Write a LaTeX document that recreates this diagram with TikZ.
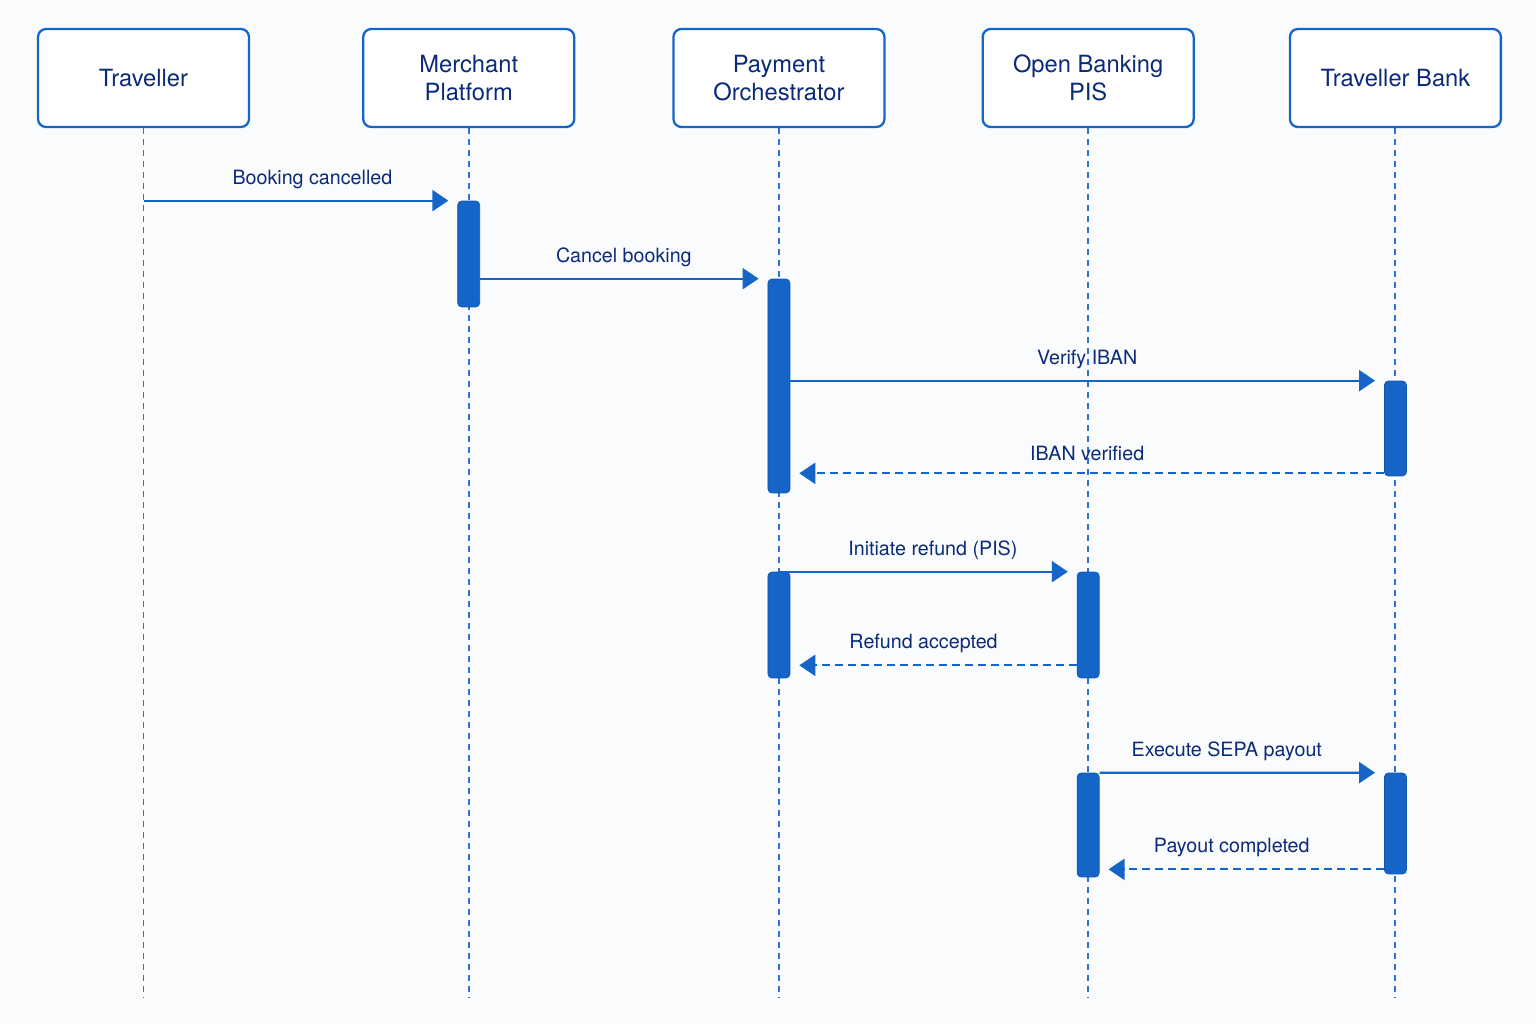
\documentclass[tikz,border=0pt]{standalone}
\usepackage{fontspec}
\setmainfont{TeX Gyre Heros}
\usepackage{tikz}
\usepackage{xcolor}
\usetikzlibrary{arrows.meta, positioning}
\definecolor{seqblue}{HTML}{1565C8}
\definecolor{seqnavy}{HTML}{0B2A78}
\definecolor{seqdash}{HTML}{2F72D6}
\definecolor{seqbg}{HTML}{FAFBFC}
\tikzstyle{actor} = [rectangle, rounded corners=0.16cm, 
minimum width=4.22cm, 
minimum height=1.96cm, 
text centered, align=center, 
draw=seqblue, line width=1.3pt, fill=white, 
text=seqnavy, font=\fontsize{13.5}{16}\selectfont]
\tikzstyle{lifeline} = [draw=seqdash, line width=1.1pt, dash pattern=on 0.12cm off 0.1cm]
\tikzstyle{activation} = [rectangle, rounded corners=0.08cm, 
minimum width=0.44cm, inner sep=0pt, 
fill=seqblue, draw=seqblue!85!black, line width=0.4pt]
\tikzstyle{msg} = [draw=seqblue, line width=1.3pt, -{Triangle[length=0.32cm,width=0.42cm]}, shorten >=0.18cm]
\tikzstyle{reply} = [msg, dash pattern=on 0.16cm off 0.1cm]
\tikzstyle{msglabel} = [above=3pt, text=seqnavy, font=\fontsize{11.2}{13}\selectfont]

\begin{document}
\begin{tikzpicture}[x=0.02cm, y=-0.02cm]
        \fill[seqbg] (0,0) rectangle (1536,1024);
        \useasboundingbox (0,0) rectangle (1536,1024);

        % --- Participants ---
        \node (traveller) [actor] at (143.5,78) {Traveller};
        \node (merchant) [actor, right=2.24cm of traveller] {Merchant\\Platform};
        \node (orch) [actor, right=1.94cm of merchant] {Payment\\Orchestrator};
        \node (pis) [actor, right=1.92cm of orch] {Open Banking\\PIS};
        \node (bank) [actor, right=1.88cm of pis] {Traveller Bank};
        \coordinate (bottom) at (0,997);

        % --- Lifelines ---
        \foreach \p in {traveller, merchant, orch, pis, bank}
            \draw [lifeline] (\p.south) -- (\p |- bottom);

        % --- Activations ---
        \node (mp1) [activation, minimum height=2.12cm] at (merchant |- 0,254) {};
        \node (po1) [activation, minimum height=4.28cm] at (orch |- 0,386) {};
        \node (bk1) [activation, minimum height=1.9cm] at (bank |- 0,428.5) {};
        \node (po2) [activation, minimum height=2.12cm] at (orch |- 0,625) {};
        \node (pi1) [activation, minimum height=2.12cm] at (pis |- 0,625) {};
        \node (pi2) [activation, minimum height=2.08cm] at (pis |- 0,825) {};
        \node (bk2) [activation, minimum height=2.02cm] at (bank |- 0,823.5) {};

        % --- Messages ---
        \draw [msg] (traveller |- mp1.north) -- node[msglabel, xshift=0.24cm] {Booking cancelled} (mp1.north west);
        \draw [msg] (mp1.east |- po1.north) -- node[msglabel] {Cancel booking} (po1.north west);
        \draw [msg] (po1.east |- bk1.north) -- node[msglabel] {Verify IBAN} (bk1.north west);
        \draw [reply] ([yshift=0.06cm]bk1.south west) -- node[msglabel] {IBAN verified} ([yshift=0.06cm]bk1.south west -| po1.east);

        \draw [msg] (po2.north) -- node[msglabel, xshift=0.1cm] {Initiate refund (PIS)} (pi1.north west);
        \draw [reply] ([yshift=0.26cm]pi1.south west) -- node[msglabel, xshift=-0.2cm] {Refund accepted} ([yshift=0.26cm]pi1.south west -| po2.east);

        \draw [msg] (pi2.north east) -- node[msglabel, xshift=-0.3cm] {Execute SEPA payout} (bk2.north west);
        \draw [reply] ([yshift=0.1cm]bk2.south west) -- node[msglabel, xshift=-0.2cm] {Payout completed} ([yshift=0.1cm]bk2.south west -| pi2.east);

    \end{tikzpicture}
\end{document}
